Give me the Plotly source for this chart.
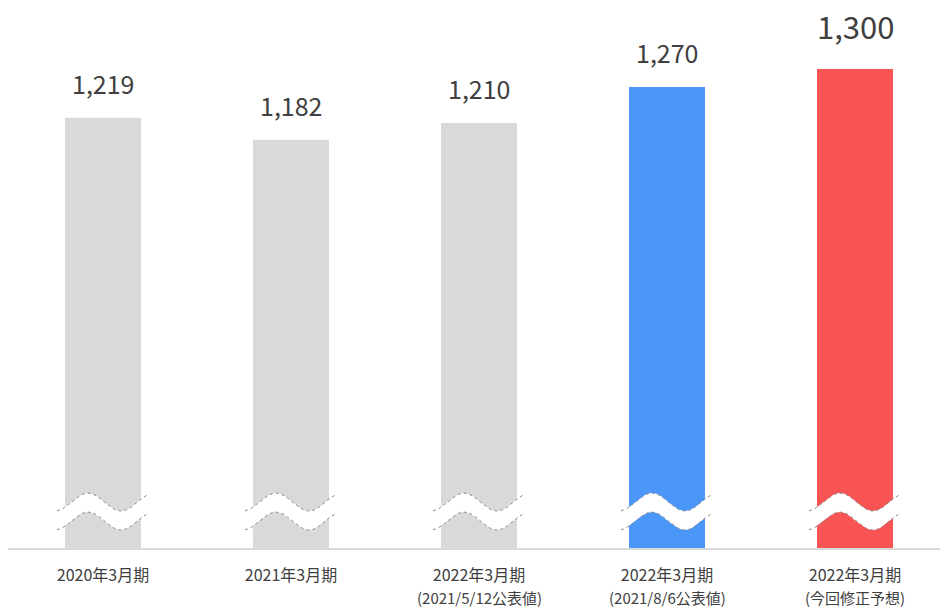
import numpy as np
import plotly.graph_objects as go

# Data
categories = ["2020年3月期", "2021年3月期", "2022年3月期", "2022年3月期", "2022年3月期"]
sublabels = ["", "", "(2021/5/12公表値)", "(2021/8/6公表値)", "(今回修正予想)"]
values = [1219, 1182, 1210, 1270, 1300]
bar_colors = ["#d9d9d9", "#d9d9d9", "#d9d9d9", "#4a96f9", "#f85453"]
label_sizes = [25, 25, 25, 25, 31]

# Layout constants
W, H = 940, 609
M_L, M_R, M_T, M_B = 8, 0, 0, 61
PLOT_H = H - M_T - M_B
Y_MIN, Y_MAX = 502, 1415
SLOT_PX = 188.0  # pixel width of one category slot
X_MIN = (M_L - 103) / SLOT_PX
X_MAX = 4 + (W - 855) / SLOT_PX

px_per_unit = PLOT_H / (Y_MAX - Y_MIN)


def px_to_val(y_px):
    """Pixel row (from top of the page) -> y value on the axis."""
    return Y_MIN + (M_T + PLOT_H - y_px) / px_per_unit


xs = list(range(len(categories)))

fig = go.Figure()
fig.add_trace(go.Bar(
    x=xs, y=values, marker=dict(color=bar_colors, line=dict(width=0)),
    width=76 / SLOT_PX, hoverinfo="skip", showlegend=False,
))

# Axis-break wave drawn across each bar
off = np.linspace(-46, 46, 120)
upper_px = 502 + 9 * np.cos(2 * np.pi * (off + 48) / 66)
lower_px = upper_px + 19
for i in xs:
    wx = i + off / SLOT_PX
    yu = px_to_val(upper_px)
    yl = px_to_val(lower_px)
    fig.add_trace(go.Scatter(
        x=np.concatenate([wx, wx[::-1]]), y=np.concatenate([yu, yl[::-1]]),
        mode="lines", fill="toself", fillcolor="white", line=dict(width=0),
        hoverinfo="skip", showlegend=False,
    ))
    for yy in (yu, yl):
        fig.add_trace(go.Scatter(
            x=wx, y=yy, mode="lines",
            line=dict(color="#8c8c8c", width=1, dash="dot"),
            hoverinfo="skip", showlegend=False,
        ))

# Value labels above bars
for i, (v, s) in enumerate(zip(values, label_sizes)):
    fig.add_annotation(
        x=i, y=v, text=f"{v:,}", showarrow=False, yanchor="bottom",
        yshift=15 if s < 30 else 19,
        font=dict(family="Noto Sans CJK JP", size=s, color="#404040"),
    )

# Second line of the category labels
for i, sub in enumerate(sublabels):
    if sub:
        fig.add_annotation(
            x=i, xref="x", y=0, yref="paper", text=sub, showarrow=False,
            yanchor="top", yshift=-38, borderpad=0,
            font=dict(family="Noto Sans CJK JP", size=15, color="#404040"),
        )

fig.update_layout(
    width=W, height=H,
    margin=dict(l=M_L, r=M_R, t=M_T, b=M_B),
    paper_bgcolor="white", plot_bgcolor="white",
    font=dict(family="Noto Sans CJK JP", color="#404040"),
    xaxis=dict(
        range=[X_MIN, X_MAX], tickvals=xs, ticktext=categories,
        showgrid=False, zeroline=False, showline=True,
        linecolor="#d9d9d9", linewidth=2, ticks="",
        tickfont=dict(size=16, color="#404040"), ticklabelstandoff=12,
    ),
    yaxis=dict(range=[Y_MIN, Y_MAX], visible=False, showgrid=False, zeroline=False),
)

fig.write_html("out.html")
